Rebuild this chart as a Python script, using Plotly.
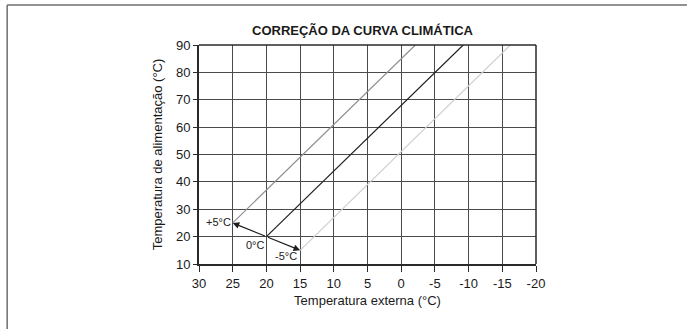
import plotly.graph_objects as go

# Climate curve correction: outside temperature vs. flow temperature
curve_names = ["+5°C", "0°C", "-5°C"]
curve_x_start = [25, 20, 15]
curve_y_start = [25, 20, 15]
curve_x_end = [-2.1, -9.2, -16.2]
curve_y_end = [90, 90, 90]
curve_colors = ["#8f8f8f", "#1e1e1e", "#cfcfcf"]

x_ticks = [30, 25, 20, 15, 10, 5, 0, -5, -10, -15, -20]
y_ticks = [10, 20, 30, 40, 50, 60, 70, 80, 90]

# label anchor positions (data units) for each curve offset
label_x = [25.0, 19.95, 15.1]
label_y = [25.2, 16.8, 13.1]

FONT = "Liberation Sans, Arial, sans-serif"

fig = go.Figure()

for name, x0, y0, x1, y1, col in zip(curve_names, curve_x_start, curve_y_start,
                                     curve_x_end, curve_y_end, curve_colors):
    fig.add_trace(go.Scatter(x=[x0, x1], y=[y0, y1], mode="lines",
                             line=dict(color=col, width=1.2),
                             name=name, showlegend=False, hoverinfo="skip"))

# arrows from the base curve origin to the shifted origins
base_x, base_y = curve_x_start[1], curve_y_start[1]
for i in (0, 2):
    fig.add_annotation(x=curve_x_start[i], y=curve_y_start[i],
                       ax=base_x, ay=base_y, axref="x", ayref="y",
                       xref="x", yref="y", text="", showarrow=True,
                       arrowhead=2, arrowsize=1.1, arrowwidth=1.2,
                       arrowcolor="#1e1e1e")

for name, lx, ly in zip(curve_names, label_x, label_y):
    fig.add_annotation(x=lx, y=ly, xref="x", yref="y", text=name,
                       showarrow=False, xanchor="right", yanchor="middle",
                       font=dict(family=FONT, size=11, color="#222222"))

# outer frame (top and left edges)
fig.add_shape(type="line", xref="paper", yref="paper",
              x0=-192/337.3, x1=(687-199)/337.3 + 0.1,
              y0=1 + 40/218.5, y1=1 + 40/218.5,
              line=dict(color="#6e6e6e", width=1.5))
fig.add_shape(type="line", xref="paper", yref="paper",
              x0=-192/337.3, x1=-192/337.3,
              y0=-70/218.5, y1=1 + 40/218.5,
              line=dict(color="#6e6e6e", width=1.5))

fig.update_layout(
    width=687, height=329,
    margin=dict(l=199, r=151, t=45, b=65),
    paper_bgcolor="white", plot_bgcolor="white",
    title=dict(text="<b>CORREÇÃO DA CURVA CLIMÁTICA</b>",
               x=362.5 / 687, xanchor="center",
               y=1 - 30 / 329, yanchor="middle",
               font=dict(family=FONT, size=13, color="#1a1a1a")),
    font=dict(family=FONT, size=13, color="#1a1a1a"),
)

fig.update_xaxes(range=[30, -20], tickvals=x_ticks,
                 ticktext=[str(v) for v in x_ticks],
                 showgrid=True, gridcolor="#4a4a4a", gridwidth=1.4,
                 showline=True, linecolor="#2a2a2a", linewidth=2,
                 ticks="outside", ticklen=6, tickcolor="#2a2a2a", tickwidth=1.3,
                 zeroline=False, mirror=False,
                 title=dict(text="Temperatura externa (°C)", standoff=6,
                            font=dict(family=FONT, size=13)),
                 tickfont=dict(family=FONT, size=13))
fig.update_yaxes(range=[10, 90], tickvals=y_ticks,
                 showgrid=True, gridcolor="#4a4a4a", gridwidth=1.4,
                 showline=True, linecolor="#2a2a2a", linewidth=2,
                 ticks="outside", ticklen=4, tickcolor="#2a2a2a", tickwidth=1.3,
                 zeroline=False,
                 title=dict(text="Temperatura de alimentação (°C)", standoff=10,
                            font=dict(family=FONT, size=13)),
                 tickfont=dict(family=FONT, size=13))

# right and top borders of the plotting area
fig.add_shape(type="line", xref="paper", yref="paper", x0=1, x1=1, y0=0, y1=1,
              line=dict(color="#2a2a2a", width=1.5))
fig.add_shape(type="line", xref="paper", yref="paper", x0=0, x1=1, y0=1, y1=1,
              line=dict(color="#2a2a2a", width=1.5))

fig.write_html("out.html")
